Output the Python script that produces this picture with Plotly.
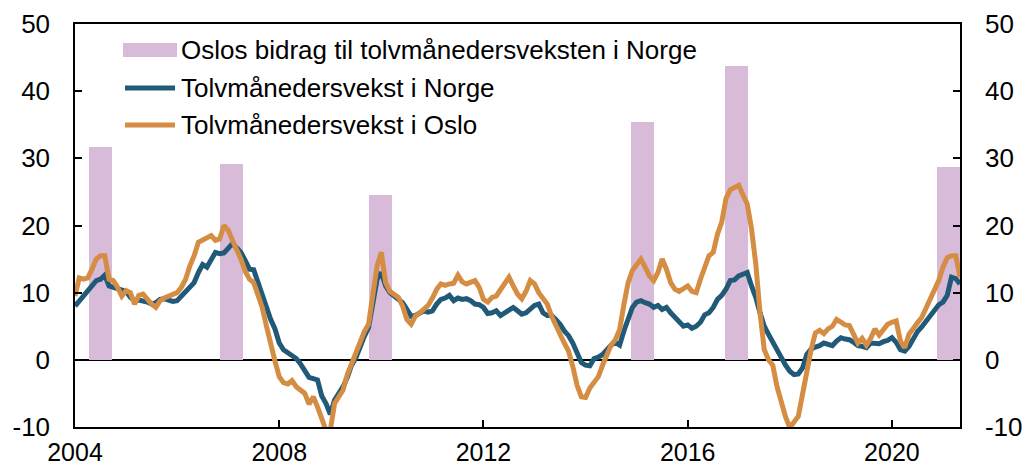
import numpy as np
import plotly.graph_objects as go

# ---------------- data ----------------
start_year = 2004
norway = [8.0, 8.8, 9.6, 10.3, 11.2, 11.8, 12.0, 12.6, 11.0, 10.8, 10.6, 10.5,
          10.2, 9.3, 8.8, 8.9, 8.8, 8.6, 8.3, 8.5, 9.0, 9.1, 8.9, 8.7,
          8.8, 9.5, 10.1, 10.8, 11.5, 13.0, 14.2, 13.8, 14.8, 16.0, 15.8, 15.9,
          16.6, 17.3, 16.7, 16.0, 14.8, 13.5, 13.4, 11.5, 9.8, 7.5, 6.0, 4.6,
          2.5, 1.5, 1.1, 0.8, 0.2, -0.6, -1.6, -2.6, -2.8, -3.0, -5.4, -6.5,
          -8.1, -6.0, -5.0, -4.0, -2.6, -0.8, 0.3, 2.0, 3.5, 4.8, 8.5, 12.0,
          13.0, 11.0, 10.0, 9.5, 9.0, 8.5, 7.5, 6.5, 6.6, 7.0, 7.3, 7.1,
          7.3, 8.3, 9.0, 9.2, 9.6, 8.8, 9.2, 9.0, 9.1, 8.8, 8.3, 8.2,
          7.8, 6.9, 7.0, 7.3, 6.6, 7.0, 7.3, 7.8, 7.3, 6.8, 7.0, 7.6,
          8.1, 8.3, 7.0, 6.6, 6.6, 6.0, 5.3, 4.3, 3.6, 2.5, 0.8, -0.4,
          -0.8, -0.9, 0.2, 0.4, 0.8, 1.5, 2.2, 2.6, 2.2, 4.3, 6.0, 7.8,
          8.6, 8.8, 8.5, 8.3, 7.8, 8.1, 7.5, 7.8, 7.0, 6.4, 5.6, 5.0,
          5.2, 4.7, 5.0, 5.6, 6.7, 7.0, 7.8, 9.0, 9.6, 10.5, 11.8, 11.9,
          12.5, 12.8, 13.0, 11.0, 9.3, 7.0, 5.0, 3.8, 2.6, 1.5, 0.2, -0.8,
          -1.7, -2.2, -2.1, -1.2, 0.8, 1.6, 1.9, 2.1, 2.5, 2.2, 2.1, 2.8,
          3.3, 3.1, 3.0, 2.6, 2.1, 2.0, 1.8, 2.5, 2.5, 2.4, 2.7, 2.9,
          3.3, 2.6, 1.5, 1.3, 2.0, 3.2, 4.2, 4.9, 5.8, 6.4, 7.5, 8.2,
          8.6, 9.6, 12.3, 12.1, 11.3]

oslo = [9.5, 12.2, 12.0, 12.2, 13.5, 15.0, 15.5, 15.5, 12.0, 11.8, 10.8, 9.5,
        10.3, 10.0, 8.3, 9.6, 9.8, 9.0, 8.3, 7.8, 8.8, 9.2, 9.5, 9.6,
        10.0, 10.8, 12.0, 14.0, 15.5, 17.5, 17.8, 18.0, 18.5, 17.8, 18.0, 20.0,
        19.3, 17.8, 16.5, 15.0, 13.2, 12.0, 11.5, 9.5, 7.8, 5.0, 2.0, -0.2,
        -2.5, -3.4, -3.6, -3.1, -4.0, -4.5, -5.0, -6.6, -5.5, -7.0, -8.5, -10.5,
        -10.5, -6.5, -5.5, -4.5, -2.2, -0.5, 0.8, 2.8, 4.2, 5.3, 9.5, 14.0,
        16.0, 11.5, 10.2, 9.8, 9.3, 8.0, 6.0, 5.3, 6.5, 7.0, 7.5, 8.1,
        9.2, 10.5, 11.3, 11.1, 11.3, 11.4, 12.6, 11.6, 11.3, 11.5, 11.8, 10.8,
        9.0, 8.6, 9.3, 9.5, 10.4, 11.2, 12.3, 11.0, 9.8, 9.1, 10.2, 11.8,
        11.3, 10.0, 9.2, 8.3, 6.5, 5.0, 3.8, 2.5, 1.3, -1.0, -3.8, -5.5,
        -5.6, -4.2, -3.4, -2.5, -0.8, 0.8, 2.2, 3.0, 4.5, 8.2, 11.5, 13.3,
        14.2, 15.0, 13.8, 12.5, 11.8, 13.0, 15.0, 13.5, 11.5, 10.5, 10.2, 10.6,
        11.0, 10.2, 10.0, 12.0, 14.0, 15.5, 16.0, 18.7, 20.5, 24.0, 25.3, 25.6,
        26.0, 24.5, 23.2, 19.5, 14.3, 7.0, 1.5, 0.0, -0.8, -4.0, -6.5, -8.5,
        -10.1, -9.2, -8.4, -5.1, -1.5, 1.5, 4.0, 4.4, 3.9, 4.6, 5.0, 6.0,
        5.6, 5.2, 5.1, 3.8, 2.5, 3.2, 2.2, 3.2, 4.6, 3.7, 4.5, 5.3,
        5.6, 5.8, 2.8, 1.8, 3.8, 4.8, 5.5, 6.3, 7.6, 9.0, 10.2, 11.8,
        13.8, 15.2, 15.5, 15.5, 12.3]

bar_x = [2004.5, 2007.07, 2009.98, 2015.11, 2016.95, 2021.1]
bar_values = [31.7, 29.2, 24.5, 35.4, 43.7, 28.7]

x_ticks = [2004, 2008, 2012, 2016, 2020]
x_tick_labels = ["2004", "2008", "2012", "2016", "2020"]
y_ticks = [-10, 0, 10, 20, 30, 40, 50]
y_tick_labels = ["-10", "0", "10", "20", "30", "40", "50"]

name_bar = "Oslos bidrag til tolvmånedersveksten i Norge"
name_norway = "Tolvmånedersvekst i Norge"
name_oslo = "Tolvmånedersvekst i Oslo"

# ---------------- styles ----------------
PINK = "#D8BBD8"
BLUE = "#215A78"
ORANGE = "#D48D43"
FONT = "Liberation Sans, Arial, sans-serif"
FS = 26

months = start_year + np.arange(len(norway)) / 12.0
x_end = months[-1]

fig = go.Figure()
fig.add_trace(go.Bar(x=bar_x, y=bar_values, width=0.45, marker=dict(color=PINK, line=dict(width=0)),
                     name=name_bar, showlegend=False))
fig.add_trace(go.Scatter(x=months, y=norway, mode="lines", line=dict(color=BLUE, width=5),
                         name=name_norway, showlegend=False))
fig.add_trace(go.Scatter(x=months, y=oslo, mode="lines", line=dict(color=ORANGE, width=5),
                         name=name_oslo, showlegend=False))
# invisible trace to activate the right-hand axis
fig.add_trace(go.Scatter(x=[bar_x[0]], y=[bar_values[0]], yaxis="y2", mode="markers",
                         marker=dict(opacity=0), showlegend=False, hoverinfo="skip"))

W, H = 1024, 468
ml, mr, mt, mb = 75, 64, 24, 41
pw, ph = W - ml - mr, H - mt - mb

def px(xp):
    return (xp - ml) / pw

def py(yp):
    return (H - mb - yp) / ph

# manual legend
shapes = [
    dict(type="rect", xref="paper", yref="paper", x0=px(123), x1=px(177), y0=py(57), y1=py(43),
         fillcolor=PINK, line=dict(width=0), layer="above"),
    dict(type="line", xref="paper", yref="paper", x0=px(125), x1=px(175), y0=py(88), y1=py(88),
         line=dict(color=BLUE, width=5), layer="above"),
    dict(type="line", xref="paper", yref="paper", x0=px(125), x1=px(175), y0=py(125), y1=py(125),
         line=dict(color=ORANGE, width=5), layer="above"),
]
annotations = []
for label, yy in [(name_bar, 50), (name_norway, 88), (name_oslo, 125)]:
    annotations.append(dict(text=label, xref="paper", yref="paper", x=px(179), y=py(yy),
                            xanchor="left", yanchor="middle", showarrow=False,
                            font=dict(family=FONT, size=FS, color="black")))

axis_common = dict(showgrid=False, showline=True, linecolor="black", linewidth=1.5,
                   ticks="inside", ticklen=7, tickwidth=1.5, tickcolor="black",
                   automargin=False)

fig.update_layout(
    template="none",
    width=W, height=H,
    margin=dict(l=ml, r=mr, t=mt, b=mb, autoexpand=False),
    paper_bgcolor="white", plot_bgcolor="white",
    showlegend=False,
    bargap=0,
    shapes=shapes,
    annotations=annotations,
    xaxis=dict(range=[start_year, x_end], tickvals=x_ticks, ticktext=x_tick_labels,
               mirror=True, zeroline=False, ticklabelstandoff=2,
               tickfont=dict(family=FONT, size=25, color="black"), **axis_common),
    yaxis=dict(range=[-10, 50], tickvals=y_ticks, ticktext=y_tick_labels,
               zeroline=True, zerolinecolor="black", zerolinewidth=1.5,
               ticklabelstandoff=18, tickfont=dict(family=FONT, size=FS, color="black"),
               **axis_common),
    yaxis2=dict(range=[-10, 50], tickvals=y_ticks, ticktext=y_tick_labels, overlaying="y",
                side="right", zeroline=False, ticklabelstandoff=18,
                tickfont=dict(family=FONT, size=FS, color="black"), **axis_common),
)

fig.write_html("out.html", config={"displayModeBar": False},
               post_script="document.body.style.margin='0';document.body.style.overflow='hidden';")
